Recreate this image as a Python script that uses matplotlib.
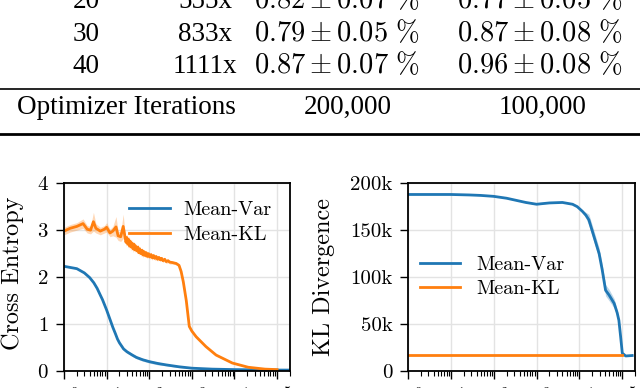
import matplotlib
matplotlib.use("Agg")
import matplotlib.pyplot as plt
from matplotlib.lines import Line2D
from matplotlib.ticker import LogLocator, NullFormatter
import numpy as np

plt.rcParams["font.family"] = "cmr10"
plt.rcParams["mathtext.fontset"] = "cm"
plt.rcParams["axes.formatter.use_mathtext"] = True

BLUE = "#1f77b4"
ORANGE = "#ff7f0e"

# --- table rows (top, cropped) ---
tab_col1 = ["20", "30", "40"]
tab_col2 = ["555x", "833x", "1111x"]
tab_col3 = [r"$0.82 \pm 0.07\ \%$", r"$0.79 \pm 0.05\ \%$", r"$0.87 \pm 0.07\ \%$"]
tab_col4 = [r"$0.77 \pm 0.05\ \%$", r"$0.87 \pm 0.08\ \%$", r"$0.96 \pm 0.08\ \%$"]
iter_row = ["Optimizer Iterations", "200,000", "100,000"]

# --- left panel: cross entropy ---
ce_var_iters = [1, 2, 3, 4, 5, 6, 7, 8, 10, 12, 14, 16, 18, 20, 25, 30, 40, 50, 70,
                100, 160, 250, 500, 1000, 3000, 10000, 30000, 100000, 200000]
ce_var = [2.23, 2.18, 2.09, 1.99, 1.88, 1.76, 1.63, 1.52, 1.30, 1.10, 0.93, 0.80, 0.68,
          0.60, 0.47, 0.41, 0.34, 0.29, 0.24, 0.20, 0.16, 0.13, 0.09, 0.06, 0.04, 0.03,
          0.025, 0.02, 0.02]
ce_var_sd = [0.01, 0.01, 0.01, 0.01, 0.01, 0.01, 0.01, 0.01, 0.01, 0.01, 0.01, 0.02, 0.02,
             0.03, 0.03, 0.03, 0.03, 0.03, 0.03, 0.03, 0.03, 0.02, 0.02, 0.01, 0.01, 0.01,
             0.01, 0.01, 0.01]

ce_kl_iters = [1, 1.4, 2, 2.8, 3.5, 4.2, 4.9, 5.6, 7.1, 8.9, 10, 12, 14, 16.6, 18.6, 21.4, 24.5,
               27, 28.5, 30, 31.5, 33, 34.5, 36, 38, 40, 42, 44, 46, 48, 51, 54, 57, 60, 64,
               68, 72, 76, 80, 85, 90, 96, 102, 110, 118, 126, 135, 145, 156, 168, 180, 195,
               210, 230, 250, 275, 300,
               350, 430, 500, 560, 630, 740, 870, 1000, 1260, 2140, 3700, 8900, 21000,
               52000, 100000]
ce_kl = [2.98, 3.04, 3.08, 3.14, 3.02, 3.00, 3.18, 3.04, 2.98, 3.02, 3.06, 2.94, 2.98, 3.07,
         2.88, 2.86, 3.08,
         2.86, 2.74, 2.84, 2.70, 2.80, 2.66, 2.76, 2.64, 2.72, 2.60, 2.70, 2.58, 2.66, 2.56,
         2.64, 2.52, 2.60, 2.50, 2.57, 2.47, 2.54, 2.46, 2.52, 2.44, 2.50, 2.43, 2.48, 2.41,
         2.46, 2.40, 2.44, 2.38, 2.42, 2.37, 2.40, 2.35, 2.38, 2.33, 2.35, 2.32,
         2.31, 2.29, 2.25, 2.12, 1.90, 1.50, 0.95, 0.85, 0.73, 0.52, 0.34, 0.17, 0.08,
         0.04, 0.03]
ce_kl_sd = ([0.08, 0.08, 0.08, 0.10, 0.08, 0.08, 0.20, 0.10, 0.08, 0.08, 0.10, 0.08, 0.10,
             0.22, 0.10, 0.10, 0.26]
            + [0.08] * 10 + [0.06] * 10 + [0.05] * 10 + [0.04] * 10
            + [0.03] * 9 + [0.02, 0.02, 0.01, 0.01, 0.01, 0.01])

# --- right panel: KL divergence (thousands) ---
kl_var_iters = [1, 10, 27, 50, 100, 200, 316, 560, 1000, 1400, 2000, 4000, 6900, 8900,
                11750, 14100, 16600, 21900, 28800, 33900, 40700, 49000, 64600, 75900,
                83200, 91200, 100000, 120000, 170000]
kl_var = [188, 188, 187.5, 187, 186, 184, 182, 179.5, 177.6, 178.3, 179, 179.5, 177.6,
          175, 170, 166, 161, 143, 125, 108, 86, 81, 72, 62, 54, 37, 19, 16, 16.5]
kl_var_sd = [0.3, 0.3, 0.3, 0.3, 0.3, 0.3, 0.3, 0.3, 0.3, 0.3, 0.3, 0.3, 0.3, 0.5, 1,
             3, 6, 6, 6, 6, 6, 6, 5, 3, 2, 1, 0.5, 0.5, 0.5]
kl_kl_iters = [1, 100000]
kl_kl = [17.5, 17.5]

y_ticks_kl = [0, 50, 100, 150, 200]
y_ticklabels_kl = ["0", "50k", "100k", "150k", "200k"]

fig = plt.figure(figsize=(6.4, 3.88), dpi=100)
H = 388.0


def fy(px):
    return 1 - px / H


tfont = dict(family="Liberation Serif", fontsize=19.5, ha="center", va="baseline")
mfont = dict(fontsize=20.5, ha="center", va="baseline")
for k, yb in enumerate([8, 41, 73]):
    fig.text(86 / 640, fy(yb), tab_col1[k], **tfont)
    fig.text(205 / 640, fy(yb), tab_col2[k], **tfont)
    fig.text(337 / 640, fy(yb), tab_col3[k], **mfont)
    fig.text(540 / 640, fy(yb), tab_col4[k], **mfont)
fig.text(17 / 640, fy(114), iter_row[0], family="Liberation Serif", fontsize=19.5,
         ha="left", va="baseline")
fig.text(348 / 640, fy(114), iter_row[1], **tfont)
fig.text(543 / 640, fy(114), iter_row[2], **tfont)
fig.add_artist(Line2D([0, 1], [fy(88.5), fy(88.5)], transform=fig.transFigure, color="k", lw=1.2))
fig.add_artist(Line2D([0, 1], [fy(134), fy(134)], transform=fig.transFigure, color="k", lw=2.0))

ax1 = fig.add_axes([0.1, 0.0438, 0.353, 0.484])
ax2 = fig.add_axes([0.6375, 0.0438, 0.355, 0.484])

for ax in (ax1, ax2):
    ax.set_xscale("log")
    ax.set_xlim(1, 2e5)
    ax.xaxis.set_major_locator(LogLocator(base=10, numticks=12))
    ax.xaxis.set_minor_locator(LogLocator(base=10, subs=np.arange(2, 10), numticks=12))
    ax.xaxis.set_minor_formatter(NullFormatter())
    ax.grid(True, which="major", color="#e3e3e3", lw=1.0)
    ax.set_axisbelow(True)
    ax.tick_params(which="major", direction="out", length=6, width=1.0, labelsize=15, pad=5)
    ax.tick_params(which="minor", direction="out", length=3.5, width=0.8)
    for s in ax.spines.values():
        s.set_linewidth(1.3)

ax1.fill_between(ce_var_iters, np.array(ce_var) - ce_var_sd, np.array(ce_var) + ce_var_sd,
                 color=BLUE, alpha=0.3, lw=0)
ax1.fill_between(ce_kl_iters, np.array(ce_kl) - ce_kl_sd, np.array(ce_kl) + ce_kl_sd,
                 color=ORANGE, alpha=0.3, lw=0)
ax1.plot(ce_var_iters, ce_var, color=BLUE, lw=2.0, label="Mean-Var")
ax1.plot(ce_kl_iters, ce_kl, color=ORANGE, lw=2.0, label="Mean-KL")
ax1.set_ylim(0, 4)
ax1.set_yticks([0, 1, 2, 3, 4])
ax1.set_ylabel("Cross Entropy", fontsize=17.5)
ax1.yaxis.set_label_coords(-0.177, 0.52)
ax1.legend(loc="upper right", frameon=False, fontsize=14.5, handlelength=2.0,
           handletextpad=0.7, labelspacing=0.3)

ax2.fill_between(kl_var_iters, np.array(kl_var) - kl_var_sd, np.array(kl_var) + kl_var_sd,
                 color=BLUE, alpha=0.3, lw=0)
ax2.plot(kl_var_iters, kl_var, color=BLUE, lw=2.0, label="Mean-Var")
ax2.plot(kl_kl_iters, kl_kl, color=ORANGE, lw=2.0, label="Mean-KL")
ax2.set_ylim(0, 200)
ax2.set_yticks(y_ticks_kl)
ax2.set_yticklabels(y_ticklabels_kl)
ax2.set_ylabel("KL Divergence", fontsize=17.5)
ax2.yaxis.set_label_coords(-0.32, 0.5)
ax2.legend(loc="center left", bbox_to_anchor=(0.0, 0.5), borderaxespad=0.2, frameon=False,
           fontsize=14.5, handlelength=2.0, handletextpad=0.8, labelspacing=0.3)

fig.savefig("out.png", dpi=100)
